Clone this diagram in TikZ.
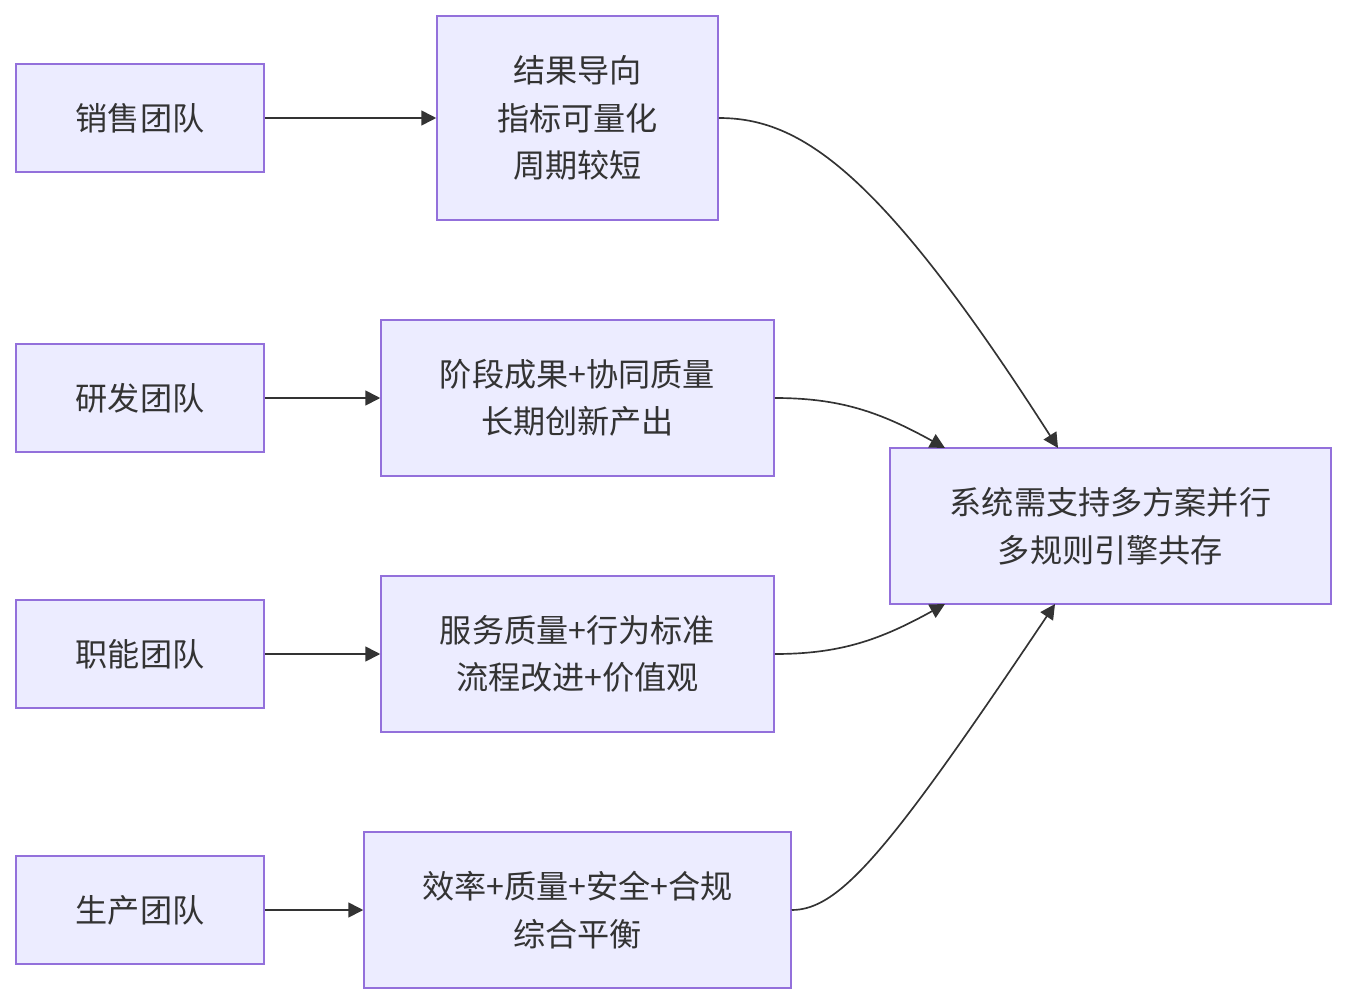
\documentclass[tikz,border=0pt]{standalone}
\usepackage{fontspec}
\setmainfont{Noto Sans CJK SC}
\usetikzlibrary{arrows.meta, positioning}

\definecolor{boxfill}{HTML}{ECECFF}
\definecolor{boxline}{HTML}{9370DB}
\definecolor{ink}{HTML}{333333}

\tikzset{
  flowbox/.style={draw=boxline, fill=boxfill, line width=0.9pt, inner sep=0pt,
    align=center, text=ink},
  teambox/.style={flowbox, minimum width=4.96cm, minimum height=2.16cm},
  flowarrow/.style={draw=ink, line width=0.95pt,
    -{Triangle[length=8.5pt, width=8.5pt]}}
}

\begin{document}
\begin{tikzpicture}[x=0.02cm, y=-0.02cm,
    font=\fontsize{18.3}{27}\selectfont]
    \useasboundingbox (0,0) rectangle (1346,1004);

    % teams
    \node[teambox] (sales) at (140,118) {销售团队};
    \node[teambox] (rd)    at (140,398) {研发团队};
    \node[teambox] (func)  at (140,654) {职能团队};
    \node[teambox] (prod)  at (140,910) {生产团队};

    % traits
    \node[flowbox, minimum width=5.62cm, minimum height=4.08cm] (salesT) at (577.5,118)
      {结果导向\\指标可量化\\周期较短};
    \node[flowbox, minimum width=7.86cm, minimum height=3.12cm] (rdT) at (577.5,398)
      {阶段成果+协同质量\\长期创新产出};
    \node[flowbox, minimum width=7.86cm, minimum height=3.12cm] (funcT) at (577.5,654)
      {服务质量+行为标准\\流程改进+价值观};
    \node[flowbox, minimum width=8.54cm, minimum height=3.12cm] (prodT) at (577.5,910)
      {效率+质量+安全+合规\\综合平衡};

    % target
    \node[flowbox, minimum width=8.82cm, minimum height=3.12cm] (sys) at (1110.5,526)
      {系统需支持多方案并行\\多规则引擎共存};
    \coordinate (sysA) at (1058,448);
    \coordinate (sysB) at (945,448);
    \coordinate (sysC) at (945,604);
    \coordinate (sysD) at (1055,604);

    \draw[flowarrow] (sales) -- (salesT);
    \draw[flowarrow] (rd) -- (rdT);
    \draw[flowarrow] (func) -- (funcT);
    \draw[flowarrow] (prod) -- (prodT);

    \draw[flowarrow] (salesT.east) .. controls (800,118) and (880,170) .. (sysA);
    \draw[flowarrow] (rdT.east) .. controls (840,398) and (880,412) .. (sysB);
    \draw[flowarrow] (funcT.east) .. controls (840,654) and (880,640) .. (sysC);
    \draw[flowarrow] (prodT.east) .. controls (840,910) and (890,850) .. (sysD);
\end{tikzpicture}
\end{document}
